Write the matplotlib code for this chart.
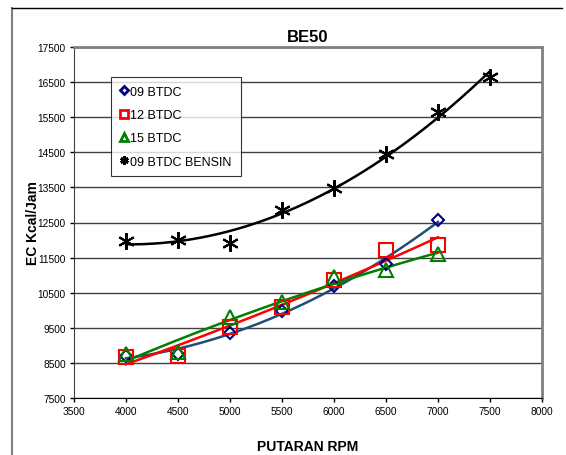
import numpy as np
import matplotlib
matplotlib.use("Agg")
import matplotlib.pyplot as plt
from matplotlib.lines import Line2D

plt.rcParams['font.family'] = ['Liberation Sans', 'DejaVu Sans']

# data
rpm = [4000, 4500, 5000, 5500, 6000, 6500, 7000]
rpm_bensin = [4000, 4500, 5000, 5500, 6000, 6500, 7000, 7500]
btdc09 = [8700, 8750, 9360, 9980, 10700, 11320, 12580]
btdc12 = [8680, 8700, 9530, 10100, 10860, 11720, 11850]
btdc15 = [8750, 8800, 9800, 10240, 10960, 11150, 11600]
bensin = [11980, 12000, 11920, 12860, 13480, 14450, 15660, 16650]

fig = plt.figure(figsize=(5.66, 4.56), dpi=100)
ax = fig.add_axes([74/566, 1-399/456, 468/566, 351/456])

series = [
    (rpm, btdc09, '09 BTDC', 'D', '#000080', '#1F4E79', 6),
    (rpm, btdc12, '12 BTDC', 's', '#FF0000', '#FF0000', 10),
    (rpm, btdc15, '15 BTDC', '^', '#008000', '#008000', 10),
    (rpm_bensin, bensin, '09 BTDC BENSIN', (6, 2, 0), '#000000', '#000000', 12),
]

handles = []
for x, y, lbl, mk, mc, lc, ms in series:
    # trendline (poly 2) like Excel
    c = np.polyfit(x, y, 2)
    xs = np.linspace(min(x), max(x), 200)
    ax.plot(xs, np.polyval(c, xs), color=lc, lw=1.8, zorder=2)
    ax.plot(x, y, ls='none', marker=mk, ms=ms, mfc='none', mec=mc, mew=1.5, zorder=3)
    handles.append(Line2D([], [], ls='none', marker=mk, ms=6 if mk != 'D' else 4.5,
                          mfc='none', mec=mc, mew=2, label=lbl))

ax.set_xlim(3500, 8000)
ax.set_ylim(7500, 17500)
ax.set_xticks(np.arange(3500, 8001, 500))
ax.set_yticks(np.arange(7500, 17501, 1000))
ax.tick_params(labelsize=7.3, length=3, width=1, direction='out', pad=3)
ax.yaxis.grid(True, color='#404040', lw=1)
ax.set_axisbelow(True)
for s in ['top', 'right']:
    ax.spines[s].set_color('#808080')
    ax.spines[s].set_linewidth(2)
ax.spines['left'].set_color('#404040')
ax.spines['bottom'].set_color('#000000')

ax.set_title('BE50', fontsize=12, fontweight='bold', pad=4)
ax.set_xlabel('PUTARAN RPM', fontsize=10, fontweight='bold', labelpad=16)
ax.set_ylabel('EC Kcal/Jam', fontsize=10, fontweight='bold', labelpad=-2)

leg = ax.legend(handles=handles, loc='upper left', bbox_to_anchor=(37/468, 1-30/351),
                fontsize=9, frameon=True, fancybox=False, edgecolor='#000000',
                handlelength=0.6, handletextpad=0.25, labelspacing=0.9,
                borderpad=0.7, borderaxespad=0)
leg.get_frame().set_linewidth(0.8)

# outer chart border
fig.add_artist(Line2D([12/566, 12/566], [0, 1-9/456], color='#808080', lw=1.5,
                      transform=fig.transFigure))
fig.add_artist(Line2D([12/566, 562/566], [1-9/456, 1-9/456], color='#000000', lw=1,
                      transform=fig.transFigure))

fig.savefig('out.png', dpi=100)
